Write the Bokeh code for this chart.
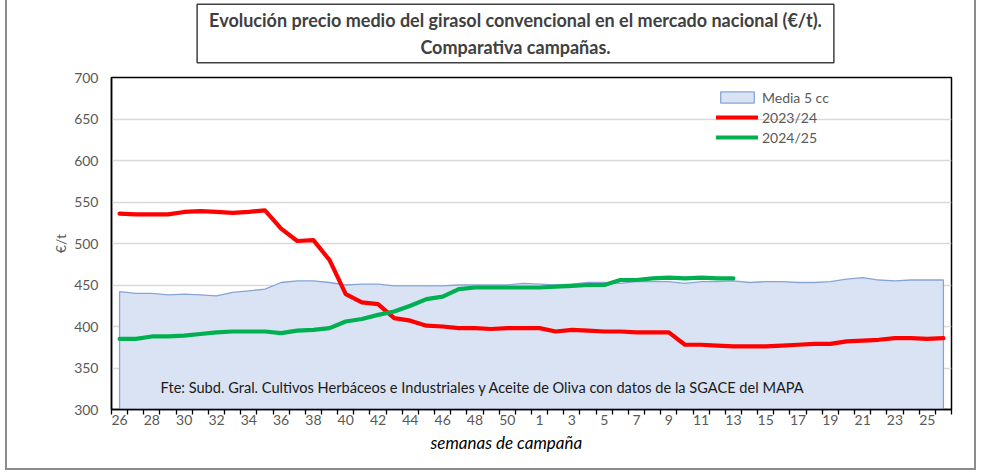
from bokeh.plotting import figure
from bokeh.layouts import column
from bokeh.models import Range1d, FixedTicker, Label, Legend, LegendItem, CustomJSTickFormatter, Title
from bokeh.embed import file_html
from bokeh.resources import INLINE

# ---- data ----
weeks = [26, 27, 28, 29, 30, 31, 32, 33, 34, 35, 36, 37, 38, 39, 40, 41, 42, 43, 44, 45,
         46, 47, 48, 49, 50, 51, 1, 2, 3, 4, 5, 6, 7, 8, 9, 10, 11, 12, 13, 14, 15, 16,
         17, 18, 19, 20, 21, 22, 23, 24, 25, 26]
media_5cc = [442, 440, 440, 438, 439, 438, 437, 441, 443, 445, 453, 455, 455, 453, 450, 451,
             451, 449, 449, 449, 449, 450, 450, 450, 450, 452, 451, 450, 451, 453, 453, 452,
             454, 454, 454, 452, 454, 454, 455, 453, 454, 454, 453, 453, 454, 457, 459, 456,
             455, 456, 456, 456]
camp_2023_24 = [536, 535, 535, 535, 538, 539, 538, 537, 538, 540, 518, 503, 504, 480, 439, 429,
                427, 410, 407, 401, 400, 398, 398, 397, 398, 398, 398, 394, 396, 395, 394, 394,
                393, 393, 393, 378, 378, 377, 376, 376, 376, 377, 378, 379, 379, 382, 383, 384,
                386, 386, 385, 386]
camp_2024_25 = [385, 385, 388, 388, 389, 391, 393, 394, 394, 394, 392, 395, 396, 398, 406, 409,
                414, 418, 425, 433, 436, 445, 447, 447, 447, 447, 447, 448, 449, 450, 450, 456,
                456, 458, 459, 458, 459, 458, 458]
y_ticks = [300, 350, 400, 450, 500, 550, 600, 650, 700]
series_names = ["Media 5 cc", "2023/24", "2024/25"]
title_text = "Evolución precio medio del girasol convencional en el mercado nacional (€/t).\nComparativa campañas."
source_text = "Fte: Subd. Gral. Cultivos Herbáceos e Industriales y Aceite de Oliva con datos de la SGACE del MAPA"
x_title = "semanas de campaña"
y_title = "€/t"

FONT = "Lato"
GRAY_BORDER = "2px solid #8c8c8c"
n = len(weeks)
xc = [i + 0.5 for i in range(n)]

# ---- title strip (its own small figure; its frame is aligned with the chart frame) ----
tfig = figure(width=971, height=70, output_backend="svg", toolbar_location=None,
              x_axis_location=None, y_axis_location=None,
              min_border_left=0, min_border_right=0, min_border_top=0, min_border_bottom=0,
              styles={"border-left": GRAY_BORDER, "border-right": GRAY_BORDER, "margin-left": "5px"})
tfig.outline_line_color = None
tfig.grid.visible = False
tfig.add_layout(Label(x=404, y=37, x_units="screen", y_units="screen", text=title_text,
                      text_font=FONT, text_font_style="bold", text_font_size="18px",
                      text_color="#404040", text_align="center", text_baseline="middle",
                      border_line_color="#404040", border_line_width=1.5,
                      background_fill_color="white", padding=(12, 5)))

# ---- main chart ----
p = figure(width=971, height=400, output_backend="svg", toolbar_location=None,
           x_range=Range1d(0, n), y_range=Range1d(y_ticks[0], y_ticks[-1]),
           min_border_left=104, min_border_right=27, min_border_top=7, min_border_bottom=61,
           styles={"border-left": GRAY_BORDER, "border-right": GRAY_BORDER,
                   "border-bottom": GRAY_BORDER, "margin-left": "5px"})
p.background_fill_color = "white"
p.border_fill_color = "white"
p.outline_line_color = "black"
p.outline_line_width = 1.5

# area (Media 5 cc)
base = y_ticks[0]
area_x = [xc[0]] + xc + [xc[-1]]
area_y = [base] + media_5cc + [base]
r_area = p.patch(area_x, area_y, fill_color="#DAE3F3", line_color="#86A5D6", line_width=1.3)

r_red = p.line(xc[:len(camp_2023_24)], camp_2023_24, line_color="#FF0000", line_width=4.2,
               line_join="round", line_cap="round")
r_green = p.line(xc[:len(camp_2024_25)], camp_2024_25, line_color="#00B050", line_width=4.2,
                 line_join="round", line_cap="round")

# axes
xa = p.xaxis[0]
xa.ticker = FixedTicker(ticks=[xc[i] for i in range(0, n, 2)], minor_ticks=list(range(0, n + 1)))
xa.formatter = CustomJSTickFormatter(args=dict(labels=[str(w) for w in weeks]),
                                     code="return labels[Math.floor(tick)];")
xa.major_tick_in = 0
xa.major_tick_out = 0
xa.minor_tick_in = 0
xa.minor_tick_out = 5
xa.minor_tick_line_color = "black"
xa.minor_tick_line_width = 1.3
xa.axis_line_color = "black"
xa.axis_line_width = 1.5
xa.major_label_standoff = 0
xa.major_label_text_font = FONT
xa.major_label_text_font_size = "14px"
xa.major_label_text_color = "#595959"

ya = p.yaxis[0]
ya.ticker = FixedTicker(ticks=y_ticks)
ya.major_tick_in = 0
ya.major_tick_out = 0
ya.minor_tick_line_color = None
ya.axis_line_color = "black"
ya.axis_line_width = 1.5
ya.major_label_standoff = 13
ya.major_label_text_font = FONT
ya.major_label_text_font_size = "14px"
ya.major_label_text_color = "#595959"
ya.axis_label = y_title
ya.axis_label_text_font = FONT
ya.axis_label_text_font_style = "normal"
ya.axis_label_text_font_size = "14px"
ya.axis_label_text_color = "#595959"
ya.axis_label_standoff = 2

p.xgrid.visible = False
p.ygrid.ticker = FixedTicker(ticks=y_ticks)
p.ygrid.grid_line_color = "#D9D9D9"
p.ygrid.grid_line_width = 1.5

# x axis title (left of centre, as in the original)
p.add_layout(Title(text=x_title, align="left", offset=319, standoff=8, vertical_align="top",
                   text_font=FONT, text_font_style="italic", text_font_size="17px",
                   text_color="black"), "below")

# source note
p.add_layout(Label(x=49, y=22, x_units="screen", y_units="screen", text=source_text,
                   text_font=FONT, text_font_size="14.6px", text_color="#1a1a1a",
                   text_align="left", text_baseline="middle"))

legend = Legend(items=[LegendItem(label=series_names[0], renderers=[r_area]),
                       LegendItem(label=series_names[1], renderers=[r_red]),
                       LegendItem(label=series_names[2], renderers=[r_green])],
                location=(605, 262), orientation="vertical")
legend.background_fill_alpha = 0
legend.border_line_alpha = 0
legend.padding = 0
legend.margin = 0
legend.spacing = 0
legend.label_height = 20
legend.glyph_height = 14
legend.glyph_width = 42
legend.label_standoff = 4
legend.label_text_font = FONT
legend.label_text_font_size = "14px"
legend.label_text_color = "#595959"
p.add_layout(legend)

layout = column(tfig, p, spacing=0)
open("out.html", "w").write(file_html(layout, INLINE))
